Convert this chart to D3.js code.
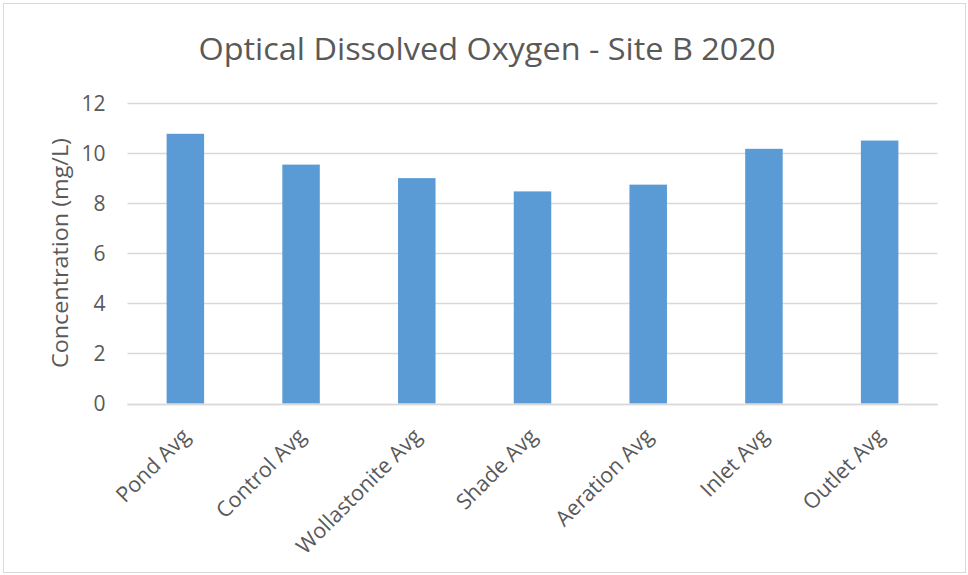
<!DOCTYPE html>
<html><head><meta charset="utf-8">
<script src="https://cdn.jsdelivr.net/npm/d3@7"></script>
<style>body{margin:0;background:#fff;} text{font-family:"Open Sans","Noto Sans",sans-serif;fill:#595959;}</style>
</head><body>
<svg id="c" width="968" height="575"></svg>
<script>
const categories = ["Pond Avg","Control Avg","Wollastonite Avg","Shade Avg","Aeration Avg","Inlet Avg","Outlet Avg"];
const values = [10.77, 9.54, 9.0, 8.47, 8.74, 10.17, 10.5];
const yTicks = [0,2,4,6,8,10,12];
const title = "Optical Dissolved Oxygen - Site B 2020";
const yLabel = "Concentration (mg/L)";

const svg = d3.select("#c");
svg.append("rect").attr("x",3.5).attr("y",3.5).attr("width",962).attr("height",569)
  .attr("fill","#fff").attr("stroke","#d9d9d9").attr("stroke-width",1);

const m = {left:127.5, right:937.5, top:103, bottom:403.5};
const x = d3.scaleBand().domain(categories).range([m.left,m.right]).paddingInner(0.676).paddingOuter(0.338);
const y = d3.scaleLinear().domain([0,12]).range([m.bottom,m.top]);

svg.append("g").selectAll("line").data(yTicks).join("line")
  .attr("x1",m.left).attr("x2",m.right)
  .attr("y1",d=>Math.round(y(d))+0.5).attr("y2",d=>Math.round(y(d))+0.5)
  .attr("stroke","#d9d9d9").attr("stroke-width",1.3);

svg.append("g").selectAll("rect").data(values).join("rect")
  .attr("x",(d,i)=>x(categories[i])).attr("width",x.bandwidth())
  .attr("y",d=>y(d)).attr("height",d=>y(0)-y(d))
  .attr("fill","#5b9bd5");

svg.append("line").attr("x1",m.left).attr("x2",m.right)
  .attr("y1",Math.round(y(0))+0.5).attr("y2",Math.round(y(0))+0.5)
  .attr("stroke","#d9d9d9").attr("stroke-width",1.3);

const yAxis = svg.append("g").attr("transform",`translate(${m.left},0)`)
  .call(d3.axisLeft(y).tickValues(yTicks).tickSize(0).tickPadding(22));
yAxis.attr("font-size",null).attr("font-family",null);
yAxis.select(".domain").remove();
yAxis.selectAll("text").style("font-size","21px").attr("fill","#595959").attr("dy","0.35em");

const xAxis = svg.append("g").attr("transform",`translate(0,${m.bottom})`)
  .call(d3.axisBottom(x).tickSize(0).tickPadding(0));
xAxis.attr("font-size",null).attr("font-family",null);
xAxis.select(".domain").remove();
xAxis.selectAll("text")
  .style("font-size","21.5px").attr("fill","#595959")
  .attr("text-anchor","end").attr("dy",null).attr("y",0)
  .attr("transform","translate(6,34) rotate(-45)");

svg.append("text").attr("x",487).attr("y",60).attr("text-anchor","middle")
  .style("font-size","31px").text(title)
  .attr("textLength",577).attr("lengthAdjust","spacingAndGlyphs");

svg.append("text").attr("transform","translate(68,253) rotate(-90)").attr("text-anchor","middle")
  .style("font-size","21px").text(yLabel)
  .attr("textLength",230).attr("lengthAdjust","spacingAndGlyphs");
</script>
</body></html>
